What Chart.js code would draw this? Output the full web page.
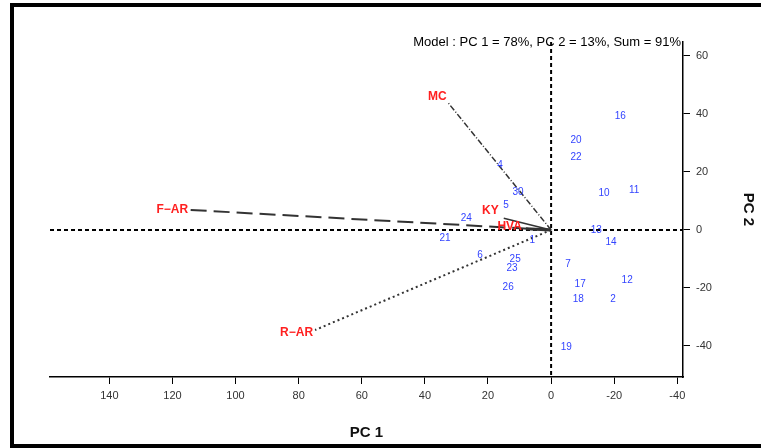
<!DOCTYPE html>
<html>
<head>
<meta charset="utf-8">
<script src="https://cdn.jsdelivr.net/npm/chart.js@4.4.1/dist/chart.umd.min.js"></script>
<style>
  body { margin: 0; background: #fff; }
  #frame { position: absolute; left: 10px; top: 3px; width: 760px; height: 437px;
           border: 4px solid #000; border-right: none; }
  #canvas { position: absolute; left: 0; top: 0; }
</style>
</head>
<body>
<div id="frame"></div>
<canvas id="canvas" width="761" height="448"></canvas>
<script>
// tick labels
const xTicks = [-40, -20, 0, 20, 40, 60, 80, 100, 120, 140];
const yTicks = [-40, -20, 0, 20, 40, 60];

// sample scores (blue numbers)
const sampleIds = ['16', '20', '22', '4', '30', '10', '11', '5', '24', '13', '14', '21',
                   '6', '25', '23', '7', '12', '26', '17', '18', '2', '19', '1'];
const pc1Scores = [-21.9, -7.9, -7.9, 16.2, 10.5, -16.8, -26.3, 14.3, 26.9, -14.3, -19.0, 33.6,
                   22.5, 11.4, 12.4, -5.4, -24.1, 13.6, -9.2, -8.6, -19.6, -4.8, 6.0];
const pc2Scores = [39.3, 31.0, 25.2, 22.4, 13.1, 12.8, 13.8, 8.6, 4.1, 0, -4.1, -2.8,
                   -8.6, -10.0, -13.1, -11.7, -17.2, -19.7, -18.6, -23.8, -23.8, -40.3, -3.4];

// variable vectors (red)
const varNames = ['MC', 'F\u2212AR', 'R\u2212AR', 'KY', 'HVA'];
const varPC1 = [32.6, 114.4, 74.8, 15, 8];
const varPC2 = [43.8, 6.9, -34.5, 4, 0.4];

const modelText = 'Model : PC 1 = 78%, PC 2 = 13%, Sum = 91%';

// line style + label placement for each vector
const vecDash = [[6, 2, 1, 2], [16, 7], [2, 3], [], []];
const vecWidth = [1.5, 2, 2, 1.5, 3];
const labelOffset = [[-11, -6, 'center'], [-2, 0, 'right'], [-2, 3, 'right'], [-5, -8, 'right'], [-4, -2, 'right']];

let ctx = null;
let chart = null;

const datasets = [];
varNames.forEach((name, i) => {
    datasets.push({
        label: name,
        data: [{ x: 0, y: 0 }, { x: varPC1[i], y: varPC2[i] }],
        showLine: true,
        borderColor: '#333',
        borderWidth: vecWidth[i],
        borderDash: vecDash[i],
        pointRadius: 0
    });
});
datasets.push({
    label: 'samples',
    data: pc1Scores.map((v, i) => ({ x: v, y: pc2Scores[i] })),
    pointRadius: 0
});

// zero lines, text labels and model note
const biplotLabels = {
    id: 'biplotLabels',
    beforeDatasetsDraw(c) {
        const { ctx, chartArea: a, scales: { x, y } } = c;
        ctx.save();
        ctx.strokeStyle = '#000';
        ctx.lineWidth = 2;
        ctx.setLineDash([4, 3]);
        const x0 = x.getPixelForValue(0), y0 = y.getPixelForValue(0);
        ctx.beginPath();
        ctx.moveTo(x0, a.top); ctx.lineTo(x0, a.bottom);
        ctx.moveTo(a.left, y0); ctx.lineTo(a.right, y0);
        ctx.stroke();
        ctx.restore();
    },
    afterDatasetsDraw(c) {
        const { ctx, scales: { x, y } } = c;
        ctx.save();
        // sample numbers
        ctx.fillStyle = '#3344ff';
        ctx.font = '10px "Liberation Sans", Arial';
        ctx.textAlign = 'center';
        ctx.textBaseline = 'middle';
        sampleIds.forEach((id, i) => {
            ctx.fillText(id, x.getPixelForValue(pc1Scores[i]), y.getPixelForValue(pc2Scores[i]));
        });
        // variable names
        ctx.fillStyle = '#ff2020';
        ctx.font = 'bold 12px "Liberation Sans", Arial';
        varNames.forEach((name, i) => {
            const o = labelOffset[i];
            ctx.textAlign = o[2];
            ctx.fillText(name, x.getPixelForValue(varPC1[i]) + o[0], y.getPixelForValue(varPC2[i]) + o[1]);
        });
        // model note
        ctx.fillStyle = '#000';
        ctx.font = '13px "Liberation Sans", Arial';
        ctx.textAlign = 'right';
        ctx.fillText(modelText, c.chartArea.right - 2, c.chartArea.top);
        ctx.restore();
    }
};

const config = {
    type: 'scatter',
    data: { datasets: datasets },
    options: {
        responsive: false,
        animation: false,
        layout: { padding: { left: 50, top: 42, right: 0, bottom: 0 } },
        plugins: { legend: { display: false }, tooltip: { enabled: false } },
        scales: {
            x: {
                type: 'linear',
                reverse: true,
                min: -41.8,
                max: 158.8,
                afterBuildTicks: s => { s.ticks = xTicks.map(v => ({ value: v })); },
                afterFit: s => { s.height = 71; },
                grid: { drawOnChartArea: false, drawTicks: true, tickLength: 7, color: '#000' },
                border: { display: true, color: '#000', width: 1.5 },
                ticks: { color: '#333', padding: 5, font: { size: 11, family: '"Liberation Sans", Arial' } },
                title: { display: true, text: 'PC 1', color: '#111', padding: { top: 4, bottom: 6 },
                         font: { size: 15, weight: 'bold', family: '"Liberation Sans", Arial' } }
            },
            y: {
                type: 'linear',
                position: 'right',
                min: -50.7,
                max: 64.8,
                afterBuildTicks: s => { s.ticks = yTicks.map(v => ({ value: v })); },
                afterFit: s => { s.width = 78; },
                grid: { drawOnChartArea: false, drawTicks: true, tickLength: 7, color: '#000' },
                border: { display: true, color: '#000', width: 1.5 },
                ticks: { color: '#333', padding: 6, font: { size: 11, family: '"Liberation Sans", Arial' } },
                title: { display: true, text: 'PC 2', color: '#111', padding: { top: 4, bottom: 4 },
                         font: { size: 15, weight: 'bold', family: '"Liberation Sans", Arial' } }
            }
        }
    },
    plugins: [biplotLabels]
};

function drawChart() {
    ctx = document.getElementById('canvas').getContext('2d');
    chart = new Chart(ctx, config);
}

drawChart();
</script>
</body>
</html>
